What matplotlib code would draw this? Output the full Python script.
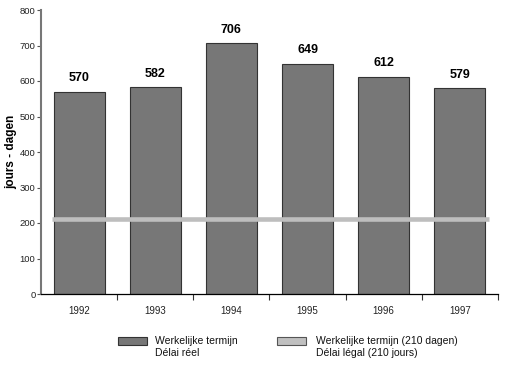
import matplotlib.pyplot as plt
from matplotlib.patches import Rectangle

plt.rcParams['font.family'] = ['Liberation Sans', 'DejaVu Sans']

# data
years = ['1992', '1993', '1994', '1995', '1996', '1997']
days = [570, 582, 706, 649, 612, 579]
legal_days = 210

fig = plt.figure(figsize=(5.07, 3.76), dpi=100)
ax = fig.add_axes([41/507, 1-294/376, 457/507, 284/376])

x = list(range(len(years)))
ax.bar(x, days, width=0.67, color='#777777', edgecolor='#333333', linewidth=0.8, zorder=2)
for xi, v in zip(x, days):
    ax.text(xi, v + 22, str(v), ha='center', va='bottom', fontsize=9, fontweight='bold')

ax.hlines(legal_days, -0.36, 5.38, color='#bebebe', linewidth=3.3, zorder=3)

ax.set_xlim(-0.5, 5.5)
ax.set_ylim(0, 800)
ax.set_yticks(range(0, 801, 100))
ax.tick_params(axis='y', labelsize=6.8, length=3, width=0.8, pad=1, color='#555555', labelcolor='#222222')
ax.set_xticks(x)
ax.set_xticklabels(years)
ax.tick_params(axis='x', which='major', length=0, labelsize=7, pad=9, labelcolor='#222222')
ax.set_xticks([i + 0.5 for i in range(6)], minor=True)
ax.tick_params(axis='x', which='minor', length=4, width=0.8, direction='out', color='#333333')
for s in ['top', 'right']:
    ax.spines[s].set_visible(False)
ax.spines['left'].set_color('#777777')
ax.spines['left'].set_linewidth(1.5)
ax.spines['bottom'].set_linewidth(0.9)
ax.set_ylabel('jours - dagen', fontsize=8.5, fontweight='bold', labelpad=2)

# legend
W, H = 507, 376
fig.add_artist(Rectangle((118/W, 1-345/H), 29/W, 8/H, transform=fig.transFigure,
                         facecolor='#777777', edgecolor='#333333', linewidth=0.8))
fig.text(155/W, 1-347/H, 'Werkelijke termijn\nDélai réel', fontsize=7.5,
         ha='left', va='center', linespacing=1.35, color='#111111')
fig.add_artist(Rectangle((277/W, 1-345/H), 29/W, 8/H, transform=fig.transFigure,
                         facecolor='#c0c0c0', edgecolor='#555555', linewidth=0.8))
fig.text(316/W, 1-347/H, 'Werkelijke termijn (210 dagen)\nDélai légal (210 jours)', fontsize=7.5,
         ha='left', va='center', linespacing=1.35, color='#111111')

fig.savefig('out.png', dpi=100)
